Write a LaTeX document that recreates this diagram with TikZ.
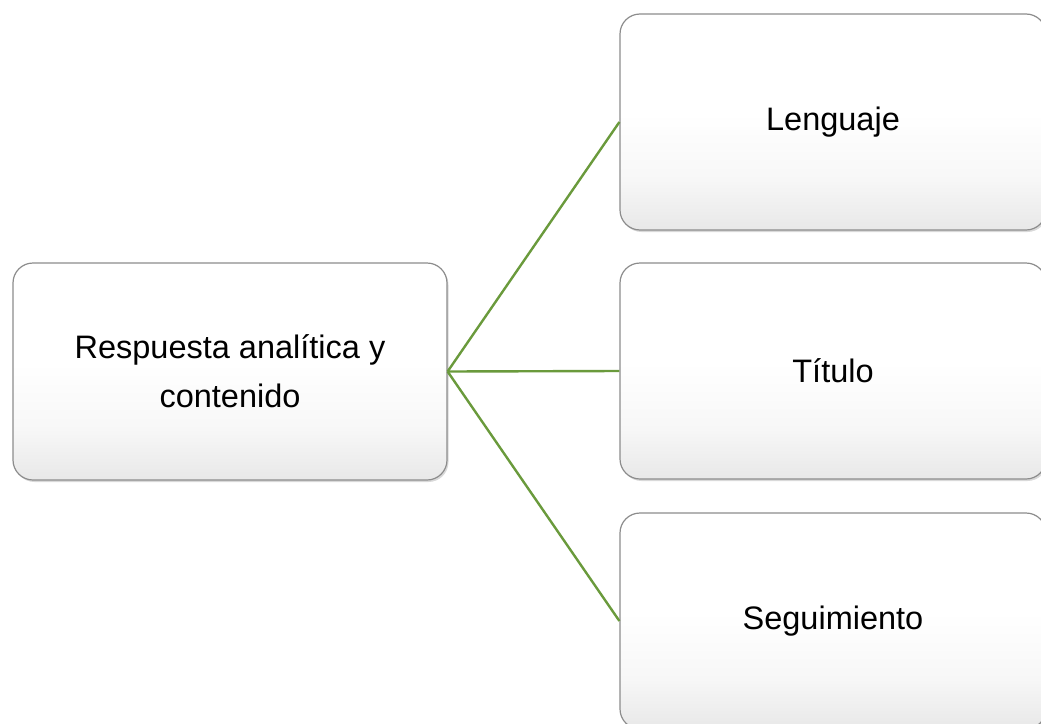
\documentclass[tikz,border=0pt]{standalone}
\usepackage{fontspec}
\setmainfont{Liberation Sans}
\usetikzlibrary{shadows}
\definecolor{linkgreen}{HTML}{6A9A3C}
\definecolor{boxedge}{HTML}{8C8C8C}
\pgfdeclareverticalshading{cardshade}{100bp}{color(0bp)=(black!9); color(25bp)=(black!9); color(37bp)=(black!3); color(52bp)=(white); color(100bp)=(white)}
\tikzset{
  card/.style={draw=boxedge, line width=1.2pt, rounded corners=20pt,
    shading=cardshade,
    drop shadow={opacity=0.3, shadow xshift=1.5pt, shadow yshift=-2pt},
    align=center, font=\fontsize{32.5}{49}\selectfont, inner sep=0pt},
  link/.style={draw=linkgreen, line width=2.4pt}
}
\begin{document}
\begin{tikzpicture}[x=1pt,y=-1pt]
\useasboundingbox (0,0) rectangle (1041,723);
\node[card, minimum width=434pt, minimum height=217pt] (root) at (230,371.5) {Respuesta analítica y\\contenido};
\node[card, minimum width=426pt, minimum height=216pt] (a) at (833,122) {Lenguaje};
\node[card, minimum width=426pt, minimum height=216pt] (b) at (833,371) {Título};
\node[card, minimum width=426pt, minimum height=216pt] (c) at (833,621) {Seguimiento};
\coordinate (hub) at (root.east);
\draw[link] (hub) -- (a.west);
\draw[link] (hub) -- (b.west);
\draw[link] (hub) -- (c.west);
\end{tikzpicture}
\end{document}
